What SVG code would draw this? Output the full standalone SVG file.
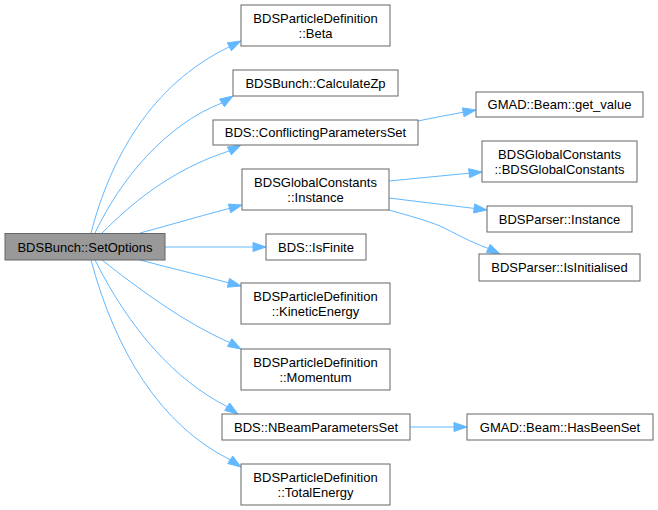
<svg xmlns="http://www.w3.org/2000/svg" width="658" height="510" viewBox="0 0 658 510">
<style>
.n rect{fill:#ffffff;stroke:#666666;stroke-width:1}
.n.root rect{fill:#999999}
.n text{font-family:"Liberation Sans",Arial,sans-serif;font-size:13px;fill:#000000;text-anchor:middle}
.e path{fill:none;stroke:#63b8ff;stroke-width:1}
.e polygon{fill:#63b8ff;stroke:#63b8ff;stroke-width:1}
</style>
<rect width="658" height="510" fill="#ffffff"/>
<g id="edges" class="e">
<path d="M91,233 C110,160 150,85 229.4,46.8"/><polygon points="231.4,50.8 241,41 227.4,42.8"/>
<path d="M95,233 C120,180 165,125 222,102.9"/><polygon points="224.4,106.7 233,96 219.6,99.1"/>
<path d="M102,233 C130,205 170,170 229.4,150.9"/><polygon points="231.4,154.9 241,145 227.4,146.9"/>
<path d="M140,233 C170,225 200,216 229.5,208.4"/><polygon points="230.7,212.7 242,205 228.3,204.1"/>
<path d="M165,247 L253,247"/><polygon points="253,251.5 266,247 253,242.5"/>
<path d="M140,260 C170,268 200,275 228.4,282.8"/><polygon points="227.3,287.2 241,286 229.5,278.4"/>
<path d="M102,260 C140,290 185,323 229.7,342.6"/><polygon points="227.5,346.5 241,349 231.9,338.7"/>
<path d="M95,260 C130,330 175,380 227.2,406.7"/><polygon points="224.7,410.4 238,414 229.7,403"/>
<path d="M91,260 C115,350 160,425 230.2,459.8"/><polygon points="227.7,463.5 241,467 232.7,456.1"/>
<path d="M418,121 C432,118 448,115 463.2,112.3"/><polygon points="464,116.7 476,110 462.4,107.9"/>
<path d="M389,181 L469.1,173.2"/><polygon points="469.5,177.7 482,172 468.7,168.7"/>
<path d="M389,198 L474.1,208.4"/><polygon points="473.6,212.9 487,210 474.6,203.9"/>
<path d="M389,210 C410,216 425,220 440,226 C455,233 470,242 488.3,248.4"/><polygon points="486.4,252.5 500,254 490.2,244.4"/>
<path d="M410,427 L454,427"/><polygon points="454,431.5 467,427 454,422.5"/>
</g>
<g id="node-setoptions" class="n root"><rect x="5" y="233.5" width="160" height="26.5"/><text x="85" y="251.5">BDSBunch::SetOptions</text></g>
<g id="node-beta" class="n"><rect x="241" y="5" width="149" height="41"/><text x="315.5" y="22.5">BDSParticleDefinition</text><text x="315.5" y="37.5">::Beta</text></g>
<g id="node-calculatezp" class="n"><rect x="233" y="70" width="165" height="26"/><text x="315.5" y="87.5">BDSBunch::CalculateZp</text></g>
<g id="node-conflicting" class="n"><rect x="213" y="120" width="205" height="25"/><text x="315.5" y="137">BDS::ConflictingParametersSet</text></g>
<g id="node-gcinstance" class="n"><rect x="242" y="169" width="147" height="41"/><text x="315.5" y="186.5">BDSGlobalConstants</text><text x="315.5" y="201.5">::Instance</text></g>
<g id="node-isfinite" class="n"><rect x="266" y="234" width="100" height="26"/><text x="316" y="251.5">BDS::IsFinite</text></g>
<g id="node-kinetic" class="n"><rect x="241" y="283" width="149" height="41"/><text x="315.5" y="300.5">BDSParticleDefinition</text><text x="315.5" y="315.5">::KineticEnergy</text></g>
<g id="node-momentum" class="n"><rect x="241" y="349" width="149" height="41"/><text x="315.5" y="366.5">BDSParticleDefinition</text><text x="315.5" y="381.5">::Momentum</text></g>
<g id="node-nbeam" class="n"><rect x="222" y="414" width="188" height="26"/><text x="316" y="431.5">BDS::NBeamParametersSet</text></g>
<g id="node-totalenergy" class="n"><rect x="241" y="464" width="149" height="41"/><text x="315.5" y="481.5">BDSParticleDefinition</text><text x="315.5" y="496.5">::TotalEnergy</text></g>
<g id="node-getvalue" class="n"><rect x="476" y="92" width="167" height="25"/><text x="559.5" y="109">GMAD::Beam::get_value</text></g>
<g id="node-gcctor" class="n"><rect x="482" y="141" width="155" height="41"/><text x="559.5" y="158.5">BDSGlobalConstants</text><text x="559.5" y="173.5">::BDSGlobalConstants</text></g>
<g id="node-parserinstance" class="n"><rect x="487" y="206" width="145" height="26"/><text x="559.5" y="223.5">BDSParser::Instance</text></g>
<g id="node-isinitialised" class="n"><rect x="479" y="254" width="161" height="27"/><text x="559.5" y="272">BDSParser::IsInitialised</text></g>
<g id="node-hasbeenset" class="n"><rect x="467" y="414" width="186" height="26"/><text x="560" y="431.5">GMAD::Beam::HasBeenSet</text></g>
</svg>
